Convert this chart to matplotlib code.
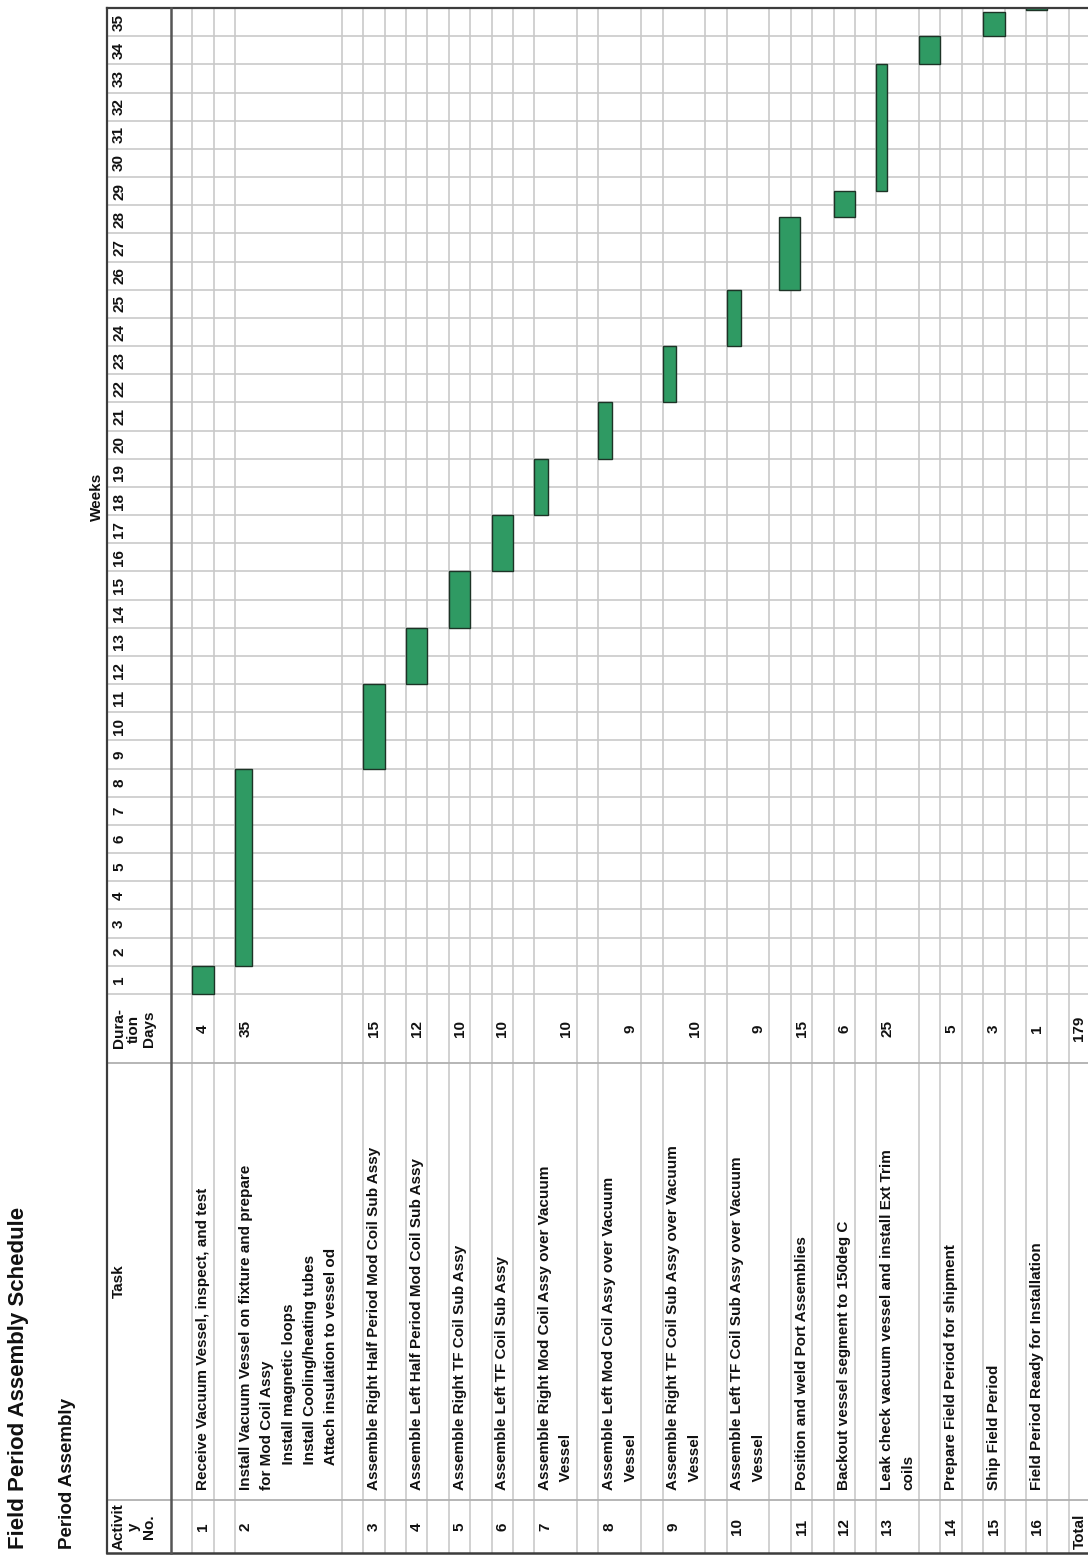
import matplotlib.pyplot as plt

plt.rcParams['font.family'] = ['Liberation Sans', 'DejaVu Sans']
plt.rcParams['font.weight'] = 'bold'

# ---- schedule data ----
activity_no = list(range(1, 17))
tasks = [
    "Receive Vacuum Vessel, inspect, and test",
    "Install Vacuum Vessel on fixture and prepare\nfor Mod Coil Assy\n"
    "      Install magnetic loops\n      Install Cooling/heating tubes\n"
    "      Attach insulation to vessel od",
    "Assemble Right Half Period Mod Coil Sub Assy",
    "Assemble Left Half Period Mod Coil Sub Assy",
    "Assemble Right TF Coil Sub Assy",
    "Assemble Left TF Coil Sub Assy",
    "Assemble Right Mod Coil Assy over Vacuum\n  Vessel",
    "Assemble Left Mod Coil Assy over Vacuum\n  Vessel",
    "Assemble Right TF Coil Sub Assy over Vacuum\n  Vessel",
    "Assemble Left TF Coil Sub Assy over Vacuum\n  Vessel",
    "Position and weld Port Assemblies",
    "Backout vessel segment to 150deg C",
    "Leak check vacuum vessel and install Ext Trim\ncoils",
    "Prepare Field Period for shipment",
    "Ship Field Period",
    "Field Period Ready for Installation",
]
durations = [4, 35, 15, 12, 10, 10, 10, 9, 10, 9, 15, 6, 25, 5, 3, 1]
weeks = list(range(1, 36))
# bar extents in weeks (0 = start of week 1)
bar_start = [0, 1, 8, 11, 13, 15, 17, 19, 21, 23, 25, 27.6, 28.5, 33, 34, 34.94]
bar_end = [1, 8, 11, 13, 15, 17, 19, 21, 23, 25, 27.6, 28.5, 33, 34, 34.86, 35]

# ---- layout (spreadsheet printed sideways) ----
W, H = 1088, 1558
PX_ROW = 21.374     # pixels per spreadsheet row
PX_WEEK = 28.17     # pixels per week column
X0, Y0 = 171, 994   # header rule / start of week 1 (pixels)

bar_shift = [0, 0, 0, 0, 0, 0, 0, 0, 0, 0, -0.55, 0, 0, -1, 0, 0]
bar_frac = [1, 0.8, 1, 1, 1, 1, 0.65, 0.65, 0.65, 0.65, 1, 1, 0.5, 1, 1, 1]
dur_line = [0, 0, 0, 0, 0, 0, 1, 1, 1, 1, 0, 0, 0, 0, 0, 0]

BAR_GREEN = '#2f9a63'
GRID = '#c9c9c9'
DARK = '#3c3c3c'
FS = 11


def px_x(p):
    return (p - X0) / PX_ROW


def px_y(p):
    return (Y0 - p) / PX_WEEK


fig = plt.figure(figsize=(W / 100, H / 100), dpi=100)
ax = fig.add_axes([0, 0, 1, 1])
ax.set_xlim(px_x(0), px_x(W))
ax.set_ylim(px_y(H), px_y(0))
ax.axis('off')

left = px_x(107)
right = px_x(W)
top = len(weeks)
dur_lo = px_y(1063)
task_lo = px_y(1500)
bottom = px_y(1553)

# row starts: one blank spreadsheet row between tasks
n_lines = [t.count('\n') + 1 for t in tasks]
starts = []
s = 1
for n in n_lines:
    starts.append(s)
    s += n + 1
total_row = s

# vertical rules at row boundaries
bounds = {0}
for st, n in zip(starts, n_lines):
    bounds.update([st, st + n, st + n + 1])
bounds.add(total_row)
for b in sorted(bounds):
    if b > 0:
        ax.plot([b, b], [bottom, top], color=GRID, lw=1.2, zorder=1)

# horizontal rules: week columns and table columns
for k in range(len(weeks)):
    ax.plot([left, right], [k, k], color=GRID, lw=1.2, zorder=1)
for yy in (dur_lo, task_lo):
    ax.plot([left, right], [yy, yy], color='#b0b0b0', lw=1.3, zorder=1)

# frame
ax.plot([left, right], [top, top], color=DARK, lw=1.6, zorder=4)
ax.plot([left, right], [bottom, bottom], color=DARK, lw=1.8, zorder=4)
ax.plot([left, left], [bottom, top], color=DARK, lw=1.6, zorder=4)
ax.plot([0, 0], [bottom, top], color='#555555', lw=1.8, zorder=4)

# gantt bars
for st, b0, b1, sh, fr in zip(starts, bar_start, bar_end, bar_shift, bar_frac):
    ax.bar(st + sh, b1 - b0, bottom=b0, width=fr, align='edge',
           color=BAR_GREEN, edgecolor='#1d3326', lw=1.0, zorder=3)

txt = dict(rotation=90, rotation_mode='anchor', fontsize=FS,
           fontweight='bold', color='#111111')

# titles
ax.text(px_x(19), px_y(1549), 'Field Period Assembly Schedule',
        ha='left', va='center', **{**txt, 'fontsize': 16})
ax.text(px_x(68), px_y(1549), 'Period Assembly',
        ha='left', va='center', **{**txt, 'fontsize': 13.5})
ax.text(px_x(97), px_y(497), 'Weeks', ha='center', va='center', **txt)

# header cells
hx = px_x(112)
act_mid = (task_lo + bottom) / 2
dur_mid = dur_lo / 2
ax.text(hx, act_mid, 'Activit\ny\nNo.', ha='center', va='top',
        linespacing=1.1, multialignment='center', **txt)
ax.text(hx, (dur_lo + task_lo) / 2, 'Task', ha='center', va='top', **txt)
ax.text(hx, dur_mid, 'Dura-\ntion\nDays', ha='center', va='top',
        linespacing=1.1, multialignment='center', **txt)
for wk in weeks:
    ax.text(px_x(119), wk - 0.5, str(wk), ha='center', va='center', **txt)

# body cells
task_x0 = px_y(1490)
for no, st, task, dur, dl in zip(activity_no, starts, tasks, durations, dur_line):
    ax.text(st + 0.5, act_mid, str(no), ha='center', va='center', **txt)
    for i, line in enumerate(task.split('\n')):
        ax.text(st + i + 0.5, task_x0, line, ha='left', va='center', **txt)
    ax.text(st + dl + 0.5, dur_mid, str(dur), ha='center', va='center', **txt)

ax.text(total_row + 0.5, px_y(1549), 'Total', ha='left', va='center', **txt)
ax.text(total_row + 0.5, dur_mid, str(sum(durations)), ha='center',
        va='center', **txt)

fig.savefig('out.png', dpi=100)
